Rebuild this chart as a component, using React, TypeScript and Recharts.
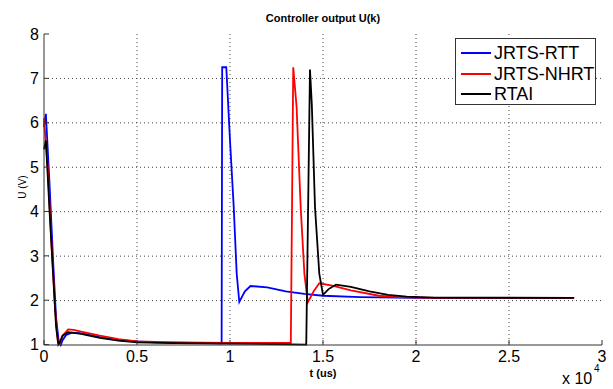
import React from 'react';
import { LineChart, Line, XAxis, YAxis, CartesianGrid } from 'recharts';

// time in units of 1e4 us, controller output in V
const rttT = [0, 0.01, 0.03, 0.05, 0.065, 0.08, 0.09, 0.1, 0.12, 0.15, 0.2, 0.3, 0.4, 0.5, 0.6, 0.8, 0.955, 0.958, 0.98, 1.0, 1.02, 1.036, 1.05, 1.08, 1.11, 1.2, 1.3, 1.4, 1.5, 1.7, 2.0, 2.5, 2.85];
const rttU = [5.9, 6.2, 4.6, 2.8, 1.6, 1.05, 0.99, 1.1, 1.22, 1.27, 1.25, 1.17, 1.1, 1.07, 1.05, 1.04, 1.03, 7.25, 7.25, 5.6, 4.1, 2.6, 1.96, 2.2, 2.32, 2.29, 2.2, 2.14, 2.1, 2.07, 2.05, 2.05, 2.05];

const nhrtT = [0, 0.02, 0.04, 0.06, 0.075, 0.085, 0.1, 0.13, 0.16, 0.2, 0.3, 0.4, 0.5, 0.7, 1.0, 1.327, 1.34, 1.358, 1.38, 1.4, 1.418, 1.45, 1.48, 1.55, 1.65, 1.8, 1.9, 2.1, 2.85];
const nhrtU = [6.1, 5.0, 3.3, 1.8, 1.05, 1.02, 1.2, 1.34, 1.33, 1.29, 1.2, 1.12, 1.07, 1.05, 1.04, 1.04, 7.25, 6.36, 4.1, 2.6, 1.95, 2.2, 2.38, 2.33, 2.22, 2.1, 2.07, 2.05, 2.05];

const rtaiT = [0, 0.01, 0.03, 0.05, 0.065, 0.077, 0.085, 0.1, 0.13, 0.2, 0.3, 0.4, 0.5, 0.7, 1.0, 1.41, 1.43, 1.44, 1.457, 1.48, 1.5, 1.53, 1.57, 1.65, 1.75, 1.85, 1.95, 2.1, 2.85];
const rtaiU = [5.4, 5.6, 4.0, 2.5, 1.4, 1.0, 1.05, 1.2, 1.28, 1.24, 1.15, 1.09, 1.05, 1.03, 1.02, 1.0, 7.2, 6.4, 4.1, 2.6, 2.12, 2.25, 2.35, 2.3, 2.2, 2.12, 2.08, 2.06, 2.05];

const xTicks = [0, 0.5, 1, 1.5, 2, 2.5, 3];
const yTicks = [1, 2, 3, 4, 5, 6, 7, 8];
const xDomain = [0, 3];
const yDomain = [1, 8];

const seriesNames = ['JRTS-RTT', 'JRTS-NHRT', 'RTAI'];
const seriesColors = ['#0000ff', '#ff0000', '#000000'];

const toPoints = (t: number[], u: number[]) => t.map((x, i) => ({ t: x, u: u[i] }));
const series = [toPoints(rttT, rttU), toPoints(nhrtT, nhrtU), toPoints(rtaiT, rtaiU)];

const font = 'Arial, "Liberation Sans", sans-serif';
const tickStyle = { fontSize: 16, fill: '#000', fontFamily: font };

// grid lines at the inner ticks, placed through the axis scale
const gridX = (props: any) => {
  const s = props?.xAxis?.scale;
  const inner = xTicks.slice(1, -1);
  if (typeof s === 'function') return inner.map((t) => s(t));
  const { left, width } = props.offset;
  return inner.map((t) => left + ((t - xDomain[0]) / (xDomain[1] - xDomain[0])) * width);
};
const gridY = (props: any) => {
  const s = props?.yAxis?.scale;
  const inner = yTicks.slice(1, -1);
  if (typeof s === 'function') return inner.map((v) => s(v));
  const { top, height } = props.offset;
  return inner.map((v) => top + ((yDomain[1] - v) / (yDomain[1] - yDomain[0])) * height);
};

export default function App() {
  return (
    <div style={{ position: 'absolute', left: 0, top: 0, width: 613, height: 389, background: '#fff', fontFamily: font, overflow: 'hidden' }}>
      <LineChart width={613} height={389} margin={{ top: 34, right: 11, bottom: 20, left: 14 }}>
        <CartesianGrid
          stroke="#444"
          strokeDasharray="1 3"
          strokeWidth={1}
          verticalCoordinatesGenerator={gridX}
          horizontalCoordinatesGenerator={gridY}
        />
        <XAxis
          dataKey="t"
          type="number"
          domain={xDomain}
          ticks={xTicks}
          interval={0}
          height={24}
          tick={tickStyle}
          tickSize={-5}
          tickMargin={11}
          stroke="#333"
          allowDuplicatedCategory={false}
        />
        <XAxis xAxisId="top" orientation="top" type="number" domain={xDomain} ticks={xTicks} interval={0} height={0} tick={false} tickSize={-5} stroke="#333" />
        <YAxis
          type="number"
          domain={yDomain}
          ticks={yTicks}
          interval={0}
          width={30}
          tick={tickStyle}
          tickSize={-5}
          tickMargin={10}
          stroke="#333"
        />
        <YAxis yAxisId="right" orientation="right" type="number" domain={yDomain} ticks={yTicks} interval={0} width={0} tick={false} tickSize={-5} stroke="#333" />
        {series.map((d, i) => (
          <Line
            key={seriesNames[i]}
            data={d}
            dataKey="u"
            type="linear"
            stroke={seriesColors[i]}
            strokeWidth={1.8}
            dot={false}
            isAnimationActive={false}
          />
        ))}
      </LineChart>

      <div style={{ position: 'absolute', left: 0, width: 646, top: 12, textAlign: 'center', fontSize: 11, fontWeight: 'bold' }}>
        Controller output U(k)
      </div>
      <div style={{ position: 'absolute', left: 22, top: 187, fontSize: 10, transform: 'translate(-50%, -50%) rotate(-90deg)', whiteSpace: 'nowrap' }}>
        U (V)
      </div>
      <div style={{ position: 'absolute', left: 0, width: 646, top: 367, textAlign: 'center', fontSize: 11, fontWeight: 'bold' }}>
        t (us)
      </div>
      <div style={{ position: 'absolute', left: 562, top: 370, fontSize: 16, lineHeight: '18px', whiteSpace: 'nowrap' }}>
        x 10
      </div>
      <div style={{ position: 'absolute', left: 594, top: 364, fontSize: 10, lineHeight: '10px' }}>4</div>

      <div style={{ position: 'absolute', left: 455, top: 38, width: 141, height: 67, border: '1px solid #333', background: '#fff', boxSizing: 'border-box' }}>
        {seriesNames.map((name, i) => (
          <div key={name} style={{ position: 'absolute', left: 5, top: 4 + i * 20.5, height: 20, display: 'flex', alignItems: 'center' }}>
            <svg width={30} height={4} style={{ marginRight: 3 }}>
              <line x1={0} y1={2} x2={30} y2={2} stroke={seriesColors[i]} strokeWidth={2} />
            </svg>
            <span style={{ fontSize: 18, lineHeight: '20px' }}>{name}</span>
          </div>
        ))}
      </div>
    </div>
  );
}
